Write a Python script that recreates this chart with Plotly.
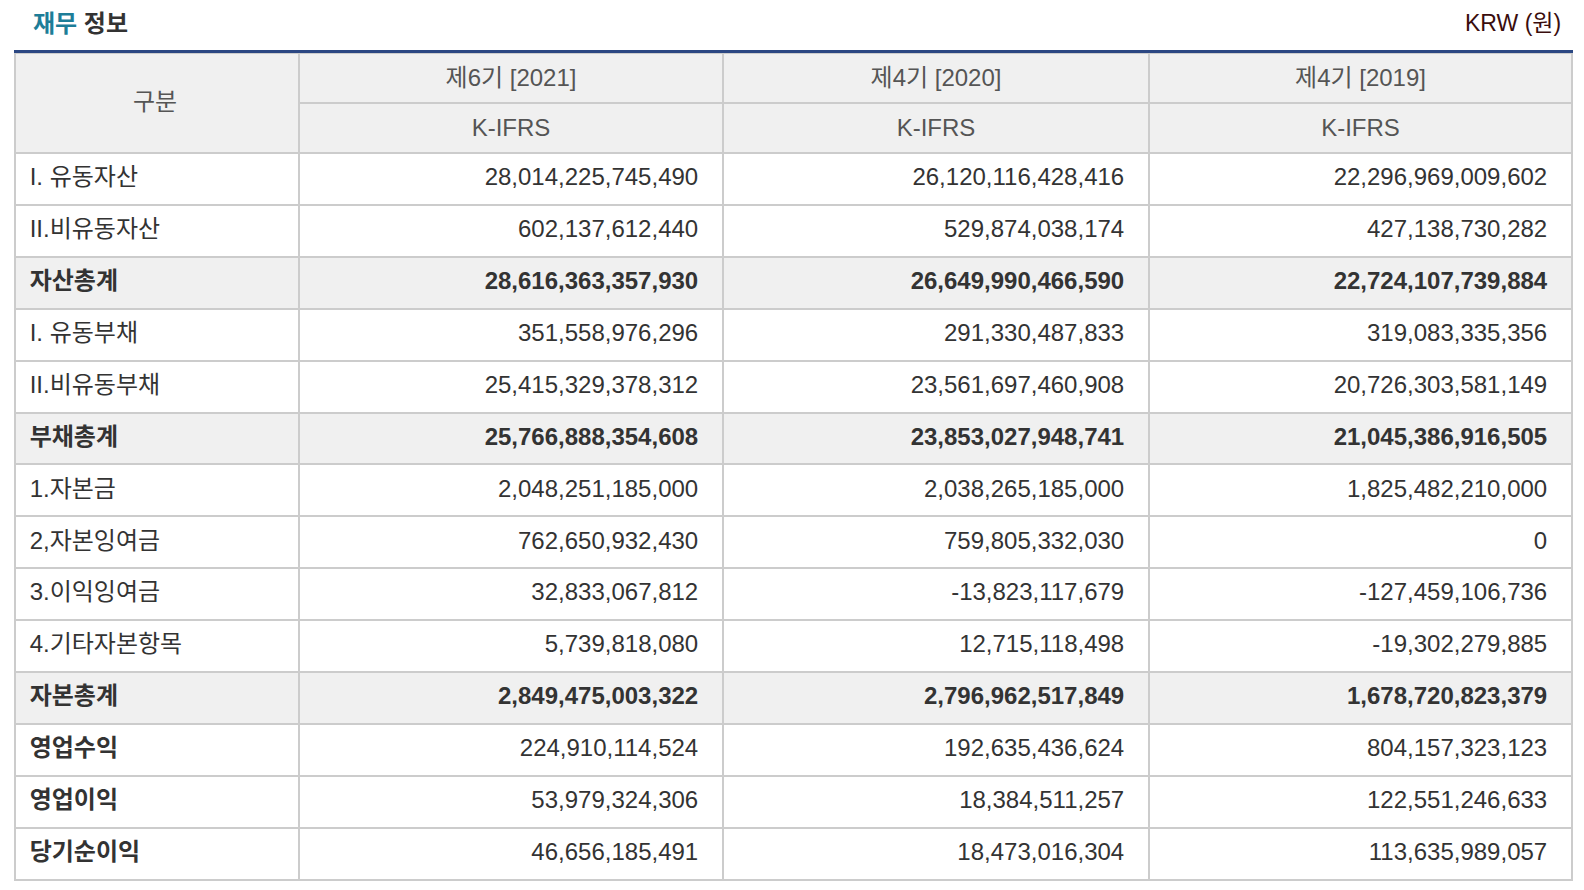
import plotly.graph_objects as go

# data
categories = ["I. 유동자산", "II.비유동자산", "자산총계", "I. 유동부채", "II.비유동부채", "부채총계",
              "1.자본금", "2,자본잉여금", "3.이익잉여금", "4.기타자본항목", "자본총계",
              "영업수익", "영업이익", "당기순이익"]
periods = ["제6기 [2021]", "제4기 [2020]", "제4기 [2019]"]
standard = ["K-IFRS", "K-IFRS", "K-IFRS"]

fy2021 = [28014225745490, 602137612440, 28616363357930, 351558976296, 25415329378312, 25766888354608,
          2048251185000, 762650932430, 32833067812, 5739818080, 2849475003322,
          224910114524, 53979324306, 46656185491]
fy2020 = [26120116428416, 529874038174, 26649990466590, 291330487833, 23561697460908, 23853027948741,
          2038265185000, 759805332030, -13823117679, 12715118498, 2796962517849,
          192635436624, 18384511257, 18473016304]
fy2019 = [22296969009602, 427138730282, 22724107739884, 319083335356, 20726303581149, 21045386916505,
          1825482210000, 0, -127459106736, -19302279885, 1678720823379,
          804157323123, 122551246633, 113635989057]

total_rows = ["자산총계", "부채총계", "자본총계"]
bold_labels = ["자산총계", "부채총계", "자본총계", "영업수익", "영업이익", "당기순이익"]

# page is shown with the default 8px body margin, so figure coords = page coords - 8
W, H = 1568, 874
OFF = 8
FONT = "Liberation Sans, Arial, Noto Sans CJK KR, sans-serif"
LINE = "#cccccc"
GREY = "#f0f0f0"
CLEAR = "rgba(0,0,0,0)"
TXT_SHIFT = 3  # table text sits high in plotly cells, nudge the text layer down


def px(x):
    return (x - OFF) / W


def py(y):
    return 1 - (y - OFF) / H


lpad = "\u00a0"
rpad = "\u2002\u2009"


def label_cell(c):
    t = f"<b>{c}</b>" if c in bold_labels else f"<span>{c}</span>"
    return lpad + t


def num_cell(v, c):
    s = f"{v:,}"
    s = f"<b>{s}</b>" if c in total_rows else f"<span>{s}</span>"
    return s + rpad


row_fill = [GREY if c in total_rows else "white" for c in categories]

cols = [[label_cell(c) for c in categories]]
for series in (fy2021, fy2020, fy2019):
    cols.append([num_cell(v, c) for v, c in zip(series, categories)])

header_vals = [["", ""]] + [[f"<span>{p}</span>", f"<span>{s}</span>"] for p, s in zip(periods, standard)]
blank_cols = [[""] * len(categories) for _ in range(4)]
blank_head = [["", ""] for _ in range(4)]
widths = [284, 424, 426, 423]

fig = go.Figure()
# grid + fills
fig.add_trace(go.Table(
    domain=dict(x=[px(15), px(1572)], y=[py(881), py(53)]),
    columnwidth=widths,
    header=dict(values=blank_head, height=50, fill_color=GREY,
                line=dict(color=LINE, width=2)),
    cells=dict(values=blank_cols, height=51.9,
               fill_color=[row_fill] * 4,
               line=dict(color=LINE, width=2)),
))
# text layer
fig.add_trace(go.Table(
    domain=dict(x=[px(15), px(1572)], y=[py(882), py(53 + TXT_SHIFT)]),
    columnwidth=widths,
    header=dict(values=header_vals, height=49.6, fill_color=CLEAR,
                line=dict(color=CLEAR, width=0), align="center",
                font=dict(family=FONT, size=24, color="#555555")),
    cells=dict(values=cols, height=51.9, fill_color=CLEAR,
               line=dict(color=CLEAR, width=0),
               align=["left", "right", "right", "right"],
               font=dict(family=FONT, size=24, color="#333333")),
))

# merged "구분" header cell
fig.add_shape(type="rect", xref="paper", yref="paper",
              x0=px(16), x1=px(298), y0=py(152), y1=py(54),
              fillcolor=GREY, line_width=0, layer="above")
fig.add_annotation(x=px(155), y=py(101), xref="paper", yref="paper",
                   text="구분", showarrow=False, xanchor="center", yanchor="middle",
                   font=dict(family=FONT, size=24, color="#555555"))

# top navy rule
fig.add_shape(type="line", xref="paper", yref="paper",
              x0=px(14), x1=px(1573), y0=py(51.5), y1=py(51.5),
              line=dict(color="#2b4782", width=3), layer="above")

fig.add_annotation(x=px(31), y=py(23), xref="paper", yref="paper",
                   text="<b><span style='color:#1d7d98'>재무</span> 정보</b>",
                   showarrow=False, xanchor="left", yanchor="middle",
                   font=dict(family=FONT, size=24, color="#333333"))
fig.add_annotation(x=px(1563), y=py(23), xref="paper", yref="paper",
                   text="KRW (원)", showarrow=False, xanchor="right", yanchor="middle",
                   font=dict(family=FONT, size=23, color="#3a0d0d"))

fig.update_layout(width=W, height=H, margin=dict(l=0, r=0, t=0, b=0),
                  paper_bgcolor="white", plot_bgcolor="white")

fig.write_html("out.html")
